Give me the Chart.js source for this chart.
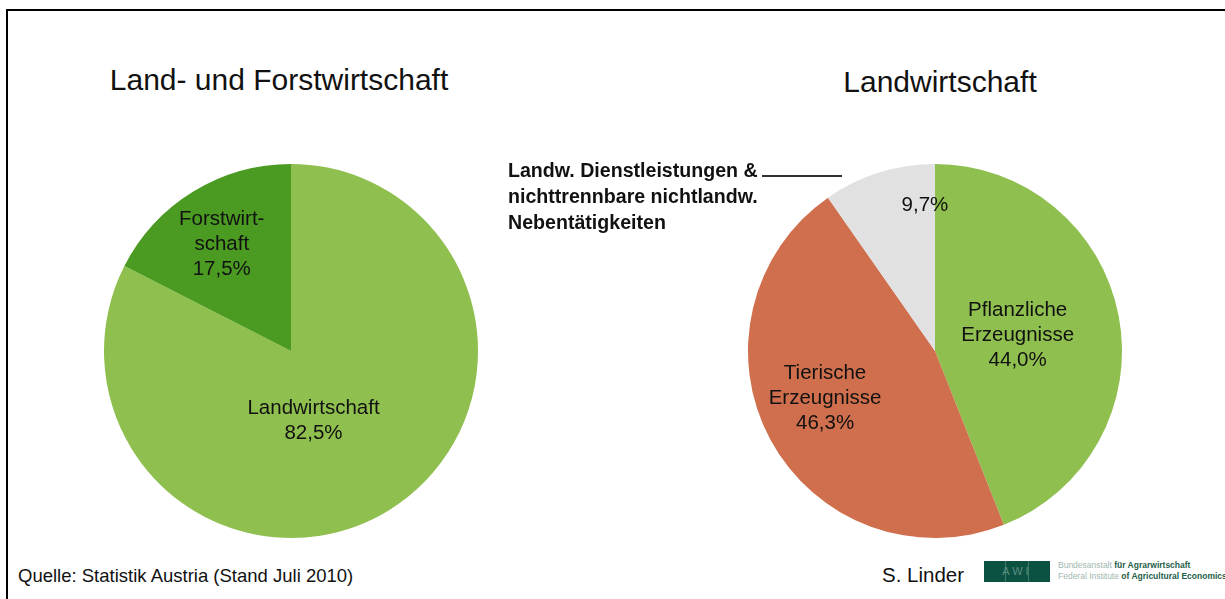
<!DOCTYPE html>
<html>
<head>
<meta charset="utf-8">
<script src="https://cdn.jsdelivr.net/npm/chart.js@4.4.1/dist/chart.umd.min.js"></script>
<style>
body{margin:0;background:#fff;width:1225px;height:599px;overflow:hidden;position:relative;font-family:"Liberation Sans",Arial,sans-serif;}
.abs{position:absolute;white-space:nowrap;}
#rahmen{position:absolute;left:6px;top:9px;width:1230px;height:600px;border-top:2px solid #000;border-left:2px solid #000;}
.titel{font-size:30px;line-height:34px;color:#111;transform:translateX(-50%);}
canvas{position:absolute;}
</style>
</head>
<body>
<div id="rahmen"></div>
<div class="abs titel" style="left:279px;top:63px;">Land- und Forstwirtschaft</div>
<div class="abs titel" style="left:940px;top:65px;">Landwirtschaft</div>

<canvas id="kuchenLinks" width="400" height="400" style="left:91px;top:151px;"></canvas>
<canvas id="kuchenRechts" width="400" height="400" style="left:735px;top:151px;"></canvas>

<div class="abs" style="left:508px;top:157px;font-size:19.6px;line-height:26px;font-weight:bold;color:#111;">Landw. Dienstleistungen &amp;<br>nichttrennbare nichtlandw.<br>Nebentätigkeiten</div>
<div class="abs" style="left:762px;top:175px;width:80px;height:0;border-top:2px solid #333;"></div>

<div class="abs" style="left:18px;top:566px;font-size:18.5px;line-height:20px;color:#111;">Quelle: Statistik Austria (Stand Juli 2010)</div>
<div class="abs" style="left:882px;top:565px;font-size:20.5px;line-height:20px;color:#111;">S. Linder</div>
<div class="abs" style="left:984px;top:561px;width:66px;height:21px;background:#0b5242;"></div>
<div class="abs" style="left:1005px;top:561px;width:1px;height:21px;background:#3f7a6a;"></div>
<div class="abs" style="left:1028px;top:561px;width:1px;height:21px;background:#3f7a6a;"></div>
<div class="abs" style="left:986px;top:564px;width:62px;font-size:11px;line-height:14px;color:#5d8f80;text-align:center;letter-spacing:3px;">AWI</div>
<div class="abs" style="left:1058px;top:560px;font-size:8.5px;line-height:11px;color:#9fb8ae;">Bundesanstalt <span style="color:#1e5e48;font-weight:bold;">für Agrarwirtschaft</span><br>Federal Institute <span style="color:#1e5e48;font-weight:bold;">of Agricultural Economics</span></div>

<script>
// Land- und Forstwirtschaft
var linksKategorien = ["Landwirtschaft", "Forstwirtschaft"];
var linksWerte = [82.5, 17.5];
var linksBeschriftung = [["Landwirtschaft"], ["Forstwirt-", "schaft"]];
var linksFarben = ["#8fbf4e", "#4b9b23"];

// Landwirtschaft
var rechtsKategorien = ["Pflanzliche Erzeugnisse", "Tierische Erzeugnisse", "Landw. Dienstleistungen & nichttrennbare nichtlandw. Nebentätigkeiten"];
var rechtsWerte = [44.0, 46.3, 9.7];
var rechtsBeschriftung = [["Pflanzliche", "Erzeugnisse"], ["Tierische", "Erzeugnisse"], []];
var rechtsFarben = ["#8fbf4e", "#cf6f4d", "#e1e1e1"];

// wo die Texte im Stück sitzen: Winkelverschiebung (Grad) und Abstand (Anteil vom Radius)
var linksLage = [[13.5, 0.39], [-1.5, 0.68]];
var rechtsLage = [[0, 0.45], [5, 0.64], [13.5, 0.78]];

function prozent(w){
    return w.toFixed(1).replace(".", ",") + "%";
}

function textPlugin(beschriftung, lage){
    return {
        id: "stueckText",
        afterDatasetsDraw: function(chart){
            var ctx = chart.ctx;
            var meta = chart.getDatasetMeta(0);
            var werte = chart.data.datasets[0].data;
            ctx.save();
            ctx.font = "20.5px 'Liberation Sans', Arial, sans-serif";
            ctx.fillStyle = "#111";
            ctx.textAlign = "center";
            ctx.textBaseline = "middle";
            meta.data.forEach(function(bogen, i){
                var p = bogen.getProps(["x", "y", "startAngle", "endAngle", "outerRadius"], true);
                var mitte = (p.startAngle + p.endAngle) / 2 + lage[i][0] * Math.PI / 180;
                var r = p.outerRadius * lage[i][1];
                var cx = p.x + Math.cos(mitte) * r;
                var cy = p.y + Math.sin(mitte) * r;
                var zeilen = beschriftung[i].concat([prozent(werte[i])]);
                zeilen.forEach(function(z, k){
                    ctx.fillText(z, cx, cy + (k - (zeilen.length - 1) / 2) * 25);
                });
            });
            ctx.restore();
        }
    };
}

function kuchen(id, kategorien, werte, farben, beschriftung, lage){
    return new Chart(document.getElementById(id).getContext("2d"), {
        type: "pie",
        data: {
            labels: kategorien,
            datasets: [{
                data: werte,
                backgroundColor: farben,
                borderWidth: 0
            }]
        },
        options: {
            responsive: false,
            animation: false,
            layout: { padding: 13 },
            plugins: {
                legend: { display: false },
                tooltip: { enabled: false }
            }
        },
        plugins: [textPlugin(beschriftung, lage)]
    });
}

kuchen("kuchenLinks", linksKategorien, linksWerte, linksFarben, linksBeschriftung, linksLage);
kuchen("kuchenRechts", rechtsKategorien, rechtsWerte, rechtsFarben, rechtsBeschriftung, rechtsLage);
</script>
</body>
</html>
